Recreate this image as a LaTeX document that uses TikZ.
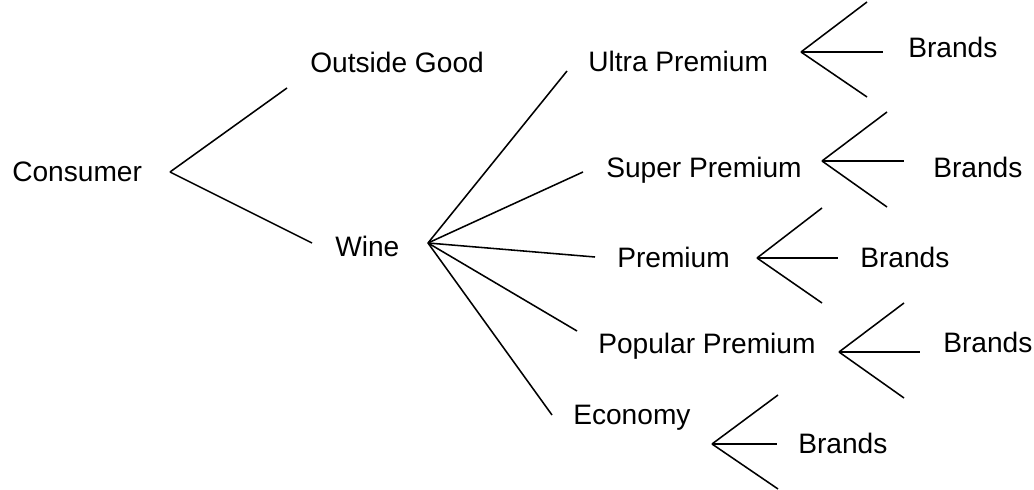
\documentclass[tikz,border=0pt]{standalone}
\usepackage{fontspec}
\setmainfont{Liberation Sans}
\usetikzlibrary{positioning}
\tikzstyle{lbl}=[inner sep=0pt, anchor=base west, font=\fontsize{20}{24}\selectfont]
\tikzstyle{branch}=[line width=1.1pt]

\begin{document}
\begin{tikzpicture}[x=0.025cm,y=-0.025cm]
\useasboundingbox (0,0) rectangle (1034,490);

  \node[lbl] at (12,182) (consumer) {Consumer};
  \node[lbl] at (310,73) (outside) {Outside Good};
  \node[lbl] at (335,257) (wine) {Wine};
\coordinate (consumerfork) at (170,172);
\coordinate (outsideend) at (287,88);
\coordinate (wineend) at (312,243);
\draw[branch] (consumerfork) -- (outsideend);
\draw[branch] (consumerfork) -- (wineend);

  \node[lbl] at (588,72) (ultra) {Ultra Premium};
  \node[lbl] at (606,178) (super) {Super Premium};
  \node[lbl] at (617,268) (premium) {Premium};
  \node[lbl] at (598,354) (popular) {Popular Premium};
  \node[lbl] at (573,425) (economy) {Economy};
\coordinate (winefork) at (428,243);
\coordinate (ultraend) at (567,71);
\coordinate (superend) at (583,172);
\coordinate (premiumend) at (595,257);
\coordinate (popularend) at (577,331);
\coordinate (economyend) at (552,415);
\draw[branch] (winefork) -- (ultraend);
\draw[branch] (winefork) -- (superend);
\draw[branch] (winefork) -- (premiumend);
\draw[branch] (winefork) -- (popularend);
\draw[branch] (winefork) -- (economyend);

% brands under ultra premium
\node[lbl] at (908,58) (brands1) {Brands};
\path (801,52) coordinate (fork1) +(66,-50) coordinate (fork1a) +(82,0) coordinate (fork1b) +(66,45) coordinate (fork1c);
\draw[branch] (fork1) -- (fork1a);
\draw[branch] (fork1) -- (fork1b);
\draw[branch] (fork1) -- (fork1c);

% brands under super premium
\node[lbl] at (933,178) (brands2) {Brands};
\path (822,161) coordinate (fork2) +(65,-49) coordinate (fork2a) +(82,0) coordinate (fork2b) +(65,46) coordinate (fork2c);
\draw[branch] (fork2) -- (fork2a);
\draw[branch] (fork2) -- (fork2b);
\draw[branch] (fork2) -- (fork2c);

% brands under premium
\node[lbl] at (860,268) (brands3) {Brands};
\path (757,258) coordinate (fork3) +(65,-50) coordinate (fork3a) +(81,0) coordinate (fork3b) +(65,45) coordinate (fork3c);
\draw[branch] (fork3) -- (fork3a);
\draw[branch] (fork3) -- (fork3b);
\draw[branch] (fork3) -- (fork3c);

% brands under popular premium
\node[lbl] at (943,353) (brands4) {Brands};
\path (839,352) coordinate (fork4) +(65,-49) coordinate (fork4a) +(81,0) coordinate (fork4b) +(65,46) coordinate (fork4c);
\draw[branch] (fork4) -- (fork4a);
\draw[branch] (fork4) -- (fork4b);
\draw[branch] (fork4) -- (fork4c);

% brands under economy
\node[lbl] at (798,454) (brands5) {Brands};
\path (712,444) coordinate (fork5) +(66,-49) coordinate (fork5a) +(65,0) coordinate (fork5b) +(66,45) coordinate (fork5c);
\draw[branch] (fork5) -- (fork5a);
\draw[branch] (fork5) -- (fork5b);
\draw[branch] (fork5) -- (fork5c);
\end{tikzpicture}
\end{document}
